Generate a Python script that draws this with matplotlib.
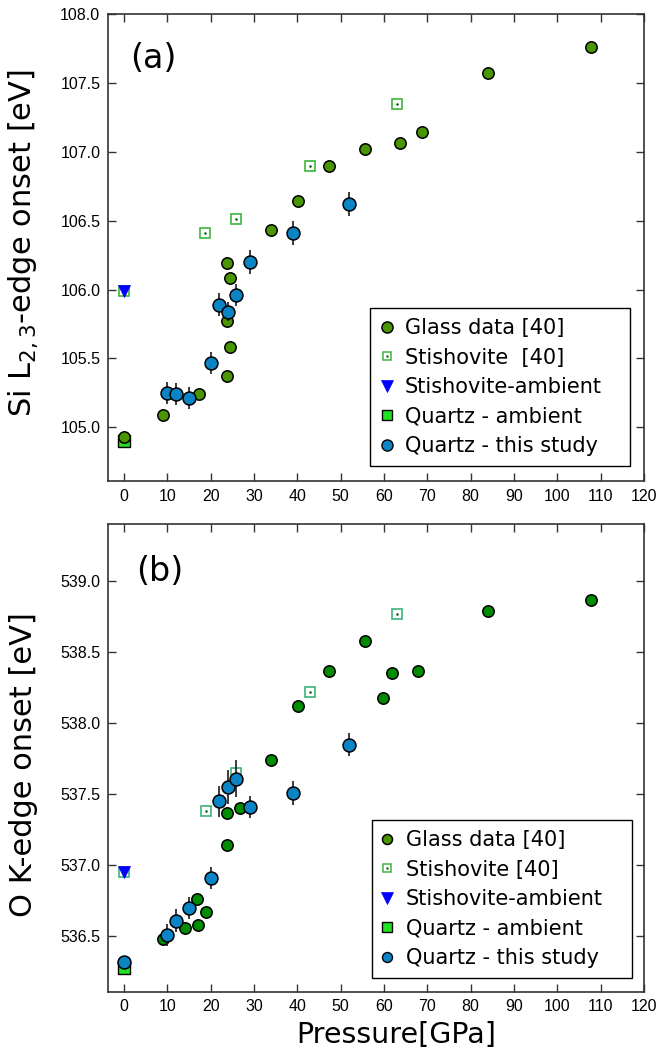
import matplotlib
matplotlib.use("Agg")
import matplotlib.pyplot as plt
from matplotlib.lines import Line2D
from matplotlib.patches import Rectangle

# ---------------- data ----------------
pressure_ticks = [0, 10, 20, 30, 40, 50, 60, 70, 80, 90, 100, 110, 120]

# Panel (a): Si L2,3-edge onset [eV]
si_glass_p = [0, 9.0, 17.2, 23.8, 24.5, 23.8, 24.5, 23.8, 34.0, 40.1, 47.4, 55.5, 63.8, 68.8, 83.9, 107.8]
si_glass_e = [104.93, 105.09, 105.24, 105.37, 105.58, 105.77, 106.08, 106.19, 106.43, 106.64,
              106.90, 107.02, 107.06, 107.14, 107.57, 107.76]
si_stish_p = [0, 18.8, 25.9, 42.9, 62.9]
si_stish_e = [105.99, 106.41, 106.51, 106.90, 107.35]
si_stamb_p = [0]
si_stamb_e = [105.99]
si_qamb_p = [0]
si_qamb_e = [104.90]
si_q_p = [10.0, 12.0, 15.0, 20.0, 22.0, 24.0, 25.9, 29.0, 38.9, 51.9]
si_q_e = [105.25, 105.24, 105.21, 105.47, 105.89, 105.84, 105.96, 106.20, 106.41, 106.62]
si_q_err = [0.08, 0.08, 0.08, 0.08, 0.085, 0.07, 0.08, 0.085, 0.085, 0.085]

# Panel (b): O K-edge onset [eV]
o_glass_p = [9.0, 14.0, 17.1, 16.9, 18.9, 23.8, 23.8, 26.7, 33.9, 40.1, 47.4, 55.5, 59.8, 61.8, 67.8, 83.9, 107.8]
o_glass_e = [536.48, 536.56, 536.58, 536.76, 536.67, 537.14, 537.37, 537.40, 537.74, 538.12,
             538.37, 538.58, 538.18, 538.35, 538.37, 538.79, 538.87]
o_stish_p = [0, 18.9, 25.9, 42.9, 62.9]
o_stish_e = [536.95, 537.38, 537.65, 538.22, 538.77]
o_stamb_p = [0]
o_stamb_e = [536.95]
o_qamb_p = [0]
o_qamb_e = [536.28]
o_q_p = [0, 10.0, 12.0, 15.0, 20.0, 22.0, 24.0, 25.9, 29.0, 38.9, 51.9]
o_q_e = [536.32, 536.51, 536.61, 536.70, 536.91, 537.45, 537.55, 537.61, 537.41, 537.51, 537.85]
o_q_err = [0.0, 0.08, 0.08, 0.08, 0.08, 0.11, 0.12, 0.13, 0.08, 0.085, 0.08]

labels_a = ["Glass data [40]", "Stishovite  [40]", "Stishovite-ambient", "Quartz - ambient", "Quartz - this study"]
labels_b = ["Glass data [40]", "Stishovite [40]", "Stishovite-ambient", "Quartz - ambient", "Quartz - this study"]

# ---------------- style ----------------
OLIVE = "#4a9600"
GREEN_B = "#008c00"
STISH_A = "#3cb83c"
STISH_B = "#3cb37a"
BLUE = "#0b84c6"
TRI = "#0000ff"
QAMB = "#22e022"
SPINE = "#333333"

fig = plt.figure(figsize=(6.59, 10.51), dpi=100)
W, H = 659.0, 1051.0

def px_axes(l, t, r, b):
    return [l / W, 1 - b / H, (r - l) / W, (b - t) / H]

ax_a = fig.add_axes(px_axes(108, 14, 644, 481))
ax_b = fig.add_axes(px_axes(108, 524.3, 644, 991.7))


def style_axes(ax, ylim, yticks):
    ax.set_xlim(-3.7, 120)
    ax.set_ylim(*ylim)
    ax.set_xticks(pressure_ticks)
    ax.set_yticks(yticks)
    ax.set_yticklabels([f"{v:.1f}" for v in yticks])
    ax.tick_params(direction="in", length=6, width=1.0, color=SPINE,
                   top=True, right=True, labelsize=11.5, pad=5.5)
    for lab in ax.get_xticklabels() + ax.get_yticklabels():
        lab.set_fontfamily("Liberation Sans")
    for s in ax.spines.values():
        s.set_color(SPINE)
        s.set_linewidth(1.2)


def draw_panel(ax, glass_p, glass_e, glass_col, stish_p, stish_e, stish_col,
               stamb_p, stamb_e, qamb_p, qamb_e, q_p, q_e, q_err):
    ax.plot(stish_p, stish_e, ls="none", marker="s", ms=7.5, mfc="white",
            mec=stish_col, mew=1.2, zorder=3)
    ax.plot(stish_p, stish_e, ls="none", marker=".", ms=1.6, color="#005a00", zorder=3.1)
    ax.plot(qamb_p, qamb_e, ls="none", marker="s", ms=8.4, mfc=QAMB, mec="black",
            mew=1.0, zorder=3)
    ax.plot(stamb_p, stamb_e, ls="none", marker="v", ms=9, mfc=TRI, mec=TRI,
            mew=0.5, zorder=4)
    ax.plot(glass_p, glass_e, ls="none", marker="o", ms=8.2, mfc=glass_col,
            mec="black", mew=1.1, zorder=5)
    ax.errorbar(q_p, q_e, yerr=q_err, fmt="none", ecolor="#1a1a1a", elinewidth=1.2,
                capsize=0, zorder=5.5)
    ax.plot(q_p, q_e, ls="none", marker="o", ms=9.3, mfc=BLUE, mec="black",
            mew=1.1, zorder=6)


def make_legend(ax, labels, glass_col, stish_col, scale, anchor, box):
    h_glass = Line2D([], [], ls="none", marker="o", ms=8.0 * scale, mfc=glass_col,
                     mec="black", mew=1.1)
    h_st1 = Line2D([], [], ls="none", marker="s", ms=5.8 * scale, mfc="white",
                   mec=stish_col, mew=1.1)
    h_st2 = Line2D([], [], ls="none", marker=".", ms=1.4, color="#005a00")
    h_tri = Line2D([], [], ls="none", marker="v", ms=9.0 * scale, mfc=TRI, mec=TRI, mew=0.5)
    h_qa = Line2D([], [], ls="none", marker="s", ms=7.5 * scale, mfc=QAMB, mec="black", mew=1.0)
    h_q = Line2D([], [], ls="none", marker="o", ms=8.0 * scale, mfc=BLUE, mec="black", mew=1.0)
    leg = ax.legend([h_glass, (h_st1, h_st2), h_tri, h_qa, h_q], labels,
                    loc="upper left", bbox_to_anchor=anchor, borderaxespad=0,
                    prop={"family": "DejaVu Sans", "size": 15}, frameon=False,
                    handlelength=1.0, handletextpad=0.37, labelspacing=0.46,
                    borderpad=0)
    leg.set_zorder(11)
    x0, y0, x1, y1 = box
    ax.add_patch(Rectangle((x0, y0), x1 - x0, y1 - y0, transform=ax.transAxes,
                           facecolor="white", edgecolor="black", lw=1.0, zorder=10))


draw_panel(ax_a, si_glass_p, si_glass_e, OLIVE, si_stish_p, si_stish_e, STISH_A,
           si_stamb_p, si_stamb_e, si_qamb_p, si_qamb_e, si_q_p, si_q_e, si_q_err)
draw_panel(ax_b, o_glass_p, o_glass_e, GREEN_B, o_stish_p, o_stish_e, STISH_B,
           o_stamb_p, o_stamb_e, o_qamb_p, o_qamb_e, o_q_p, o_q_e, o_q_err)

style_axes(ax_a, (104.61, 108.0), [105.0, 105.5, 106.0, 106.5, 107.0, 107.5, 108.0])
style_axes(ax_b, (536.11, 539.40), [536.5, 537.0, 537.5, 538.0, 538.5, 539.0])

make_legend(ax_a, labels_a, OLIVE, STISH_A, 1.0, (0.501, 0.349),
            (0.489, 0.032, 0.974, 0.370))
make_legend(ax_b, labels_b, OLIVE, STISH_A, 0.9, (0.502, 0.346),
            (0.493, 0.029, 0.978, 0.368))

ax_a.text(0.041, 0.904, "(a)", transform=ax_a.transAxes, fontsize=24,
          family="DejaVu Sans", ha="left", va="center")
ax_b.text(0.052, 0.90, "(b)", transform=ax_b.transAxes, fontsize=24,
          family="DejaVu Sans", ha="left", va="center")

fig.text(23.5 / W, 1 - 243 / H, "Si L$_{2,3}$-edge onset [eV]", rotation=90,
         ha="center", va="center", fontsize=22, family="DejaVu Sans")
fig.text(23.5 / W, 1 - 765 / H, "O K-edge onset [eV]", rotation=90,
         ha="center", va="center", fontsize=22, family="DejaVu Sans")
fig.text(396 / W, 1 - 1035 / H, "Pressure[GPa]", ha="center", va="center",
         fontsize=20.5, family="DejaVu Sans")

fig.savefig("out.png", dpi=100)
